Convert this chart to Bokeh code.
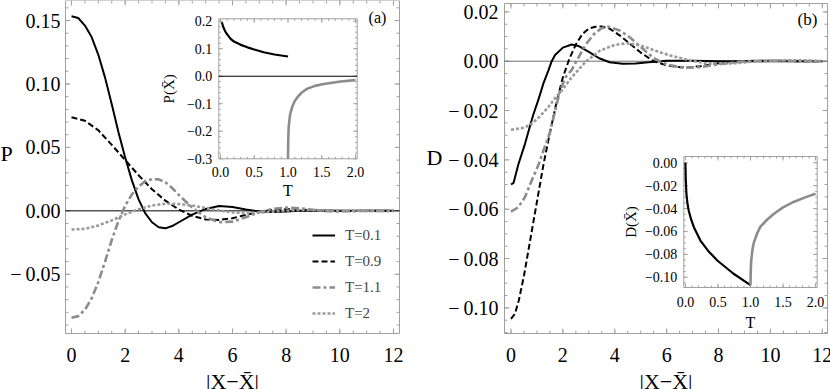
import numpy as np
from bokeh.plotting import figure
from bokeh.models import Range1d, Legend, LegendItem
from bokeh.layouts import row
from bokeh.embed import file_html
from bokeh.resources import INLINE
from bokeh.core.properties import value

# ---------------- data: panel (a)  P versus |X - Xbar| ----------------
p_t01_x = [0, 0.25, 0.5, 0.75, 1.0, 1.25, 1.5, 1.75, 2.0, 2.25, 2.5, 2.75, 3.0, 3.25, 3.5, 3.75, 4.0, 4.5, 5.0, 5.5, 6.0, 6.5, 7.0, 7.5, 8.0, 8.5, 9.0, 10.0, 11.0, 12.0]
p_t01_y = [0.1534, 0.152, 0.146, 0.137, 0.123, 0.105, 0.084, 0.062, 0.042, 0.024, 0.009, -0.002, -0.009, -0.013, -0.0138, -0.012, -0.009, -0.003, 0.0015, 0.0038, 0.003, 0.001, -0.0006, -0.001, -0.0006, 0.0, 0.0003, 0.0001, 0.0, 0.0]

p_t09_x = [0, 0.5, 1.0, 1.5, 2.0, 2.5, 3.0, 3.5, 4.0, 4.5, 5.0, 5.5, 6.0, 6.5, 7.0, 7.5, 8.0, 8.5, 9.0, 10.0, 11.0, 12.0]
p_t09_y = [0.0738, 0.071, 0.0635, 0.052, 0.040, 0.028, 0.017, 0.008, 0.001, -0.004, -0.0068, -0.0072, -0.0058, -0.0032, -0.0008, 0.0008, 0.0013, 0.001, 0.0004, -0.0001, 0.0, 0.0]

p_t11_x = [0, 0.25, 0.5, 0.75, 1.0, 1.25, 1.5, 1.75, 2.0, 2.25, 2.5, 2.75, 3.0, 3.25, 3.5, 3.75, 4.0, 4.5, 5.0, 5.5, 6.0, 6.5, 7.0, 7.5, 8.0, 8.5, 9.0, 9.5, 10.0, 11.0, 12.0]
p_t11_y = [-0.0843, -0.083, -0.078, -0.069, -0.056, -0.040, -0.023, -0.008, 0.004, 0.013, 0.019, 0.0235, 0.025, 0.0248, 0.0225, 0.018, 0.0125, 0.0025, -0.005, -0.009, -0.0085, -0.005, -0.001, 0.0015, 0.0025, 0.002, 0.0008, -0.0002, -0.0005, 0.0, 0.0]

p_t2_x = [0, 0.5, 1.0, 1.5, 2.0, 2.5, 3.0, 3.5, 4.0, 4.5, 5.0, 5.5, 6.0, 6.5, 7.0, 7.5, 8.0, 8.5, 9.0, 10.0, 11.0, 12.0]
p_t2_y = [-0.0147, -0.0142, -0.0115, -0.0075, -0.0028, 0.0012, 0.0042, 0.0056, 0.0054, 0.0042, 0.0022, 0.0002, -0.0012, -0.0018, -0.0014, -0.0006, 0.0002, 0.0006, 0.0006, 0.0002, 0.0, 0.0]

# inset (a): P(Xbar) versus T
pin_low_T = [0.02, 0.04, 0.07, 0.1, 0.15, 0.2, 0.3, 0.4, 0.5, 0.64, 0.8, 1.0]
pin_low_P = [0.196, 0.18, 0.163, 0.152, 0.136, 0.126, 0.114, 0.105, 0.097, 0.087, 0.079, 0.0716]
pin_high_T = [1.0, 1.003, 1.01, 1.03, 1.06, 1.1, 1.14, 1.2, 1.28, 1.4, 1.53, 1.78, 2.0]
pin_high_P = [-0.30, -0.24, -0.185, -0.14, -0.113, -0.09, -0.076, -0.06, -0.046, -0.035, -0.028, -0.019, -0.014]

# ---------------- data: panel (b)  D versus |X - Xbar| ----------------
d_t01_x = [0, 0.1, 0.28, 0.54, 0.7, 0.85, 1.06, 1.25, 1.44, 1.57, 1.7, 2.0, 2.34, 2.6, 3.0, 3.4, 3.8, 4.3, 4.8, 5.3, 6.0, 7.0, 8.0, 9.0, 10.0, 12.0]
d_t01_y = [-0.050, -0.0493, -0.042, -0.0335, -0.0275, -0.022, -0.0155, -0.009, -0.0038, 0.0, 0.0025, 0.0055, 0.0068, 0.0062, 0.0038, 0.0012, -0.0004, -0.001, -0.0009, -0.0004, 0.0002, 0.0002, 0.0, 0.0, 0.0, 0.0]

d_t09_x = [0, 0.15, 0.3, 0.5, 0.75, 1.0, 1.25, 1.5, 1.75, 2.0, 2.25, 2.5, 2.75, 3.0, 3.25, 3.5, 3.8, 4.2, 4.6, 5.0, 5.5, 6.0, 6.5, 6.8, 7.3, 8.0, 9.0, 10.0, 11.0, 12.0]
d_t09_y = [-0.1045, -0.1025, -0.097, -0.087, -0.072, -0.057, -0.042, -0.029, -0.017, -0.0065, 0.001, 0.0068, 0.011, 0.0132, 0.014, 0.0141, 0.0132, 0.0104, 0.007, 0.0035, 0.0, -0.0017, -0.0024, -0.0025, -0.002, -0.0008, 0.0001, 0.0002, 0.0, 0.0]

d_t11_x = [0, 0.28, 0.54, 0.8, 1.06, 1.25, 1.5, 1.75, 1.89, 2.1, 2.34, 2.6, 2.86, 3.2, 3.5, 3.75, 4.2, 4.6, 5.0, 5.5, 6.0, 6.5, 6.8, 7.3, 8.0, 9.0, 10.0, 11.0, 12.0]
d_t11_y = [-0.0610, -0.0592, -0.0551, -0.0484, -0.042, -0.0362, -0.029, -0.018, -0.012, -0.0065, -0.0035, 0.0015, 0.0065, 0.011, 0.0135, 0.014, 0.0124, 0.0095, 0.0058, 0.0012, -0.0013, -0.0024, -0.0026, -0.0024, -0.0012, 0.0, 0.0002, 0.0001, 0.0]

d_t2_x = [0, 0.4, 0.73, 1.1, 1.44, 1.7, 1.96, 2.34, 2.6, 2.9, 3.43, 4.0, 4.46, 5.0, 5.5, 6.14, 6.9, 7.5, 8.1, 8.8, 9.5, 10.5, 11.5, 12.0]
d_t2_y = [-0.0278, -0.0272, -0.026, -0.0225, -0.0186, -0.015, -0.0119, -0.0065, -0.0035, 0.0, 0.0043, 0.0066, 0.0073, 0.0064, 0.0045, 0.0023, 0.0003, -0.0008, -0.0011, -0.0007, 0.0, 0.0004, 0.0003, 0.0]

# inset (b): D(Xbar) versus T
din_low_T = [0.0, 0.005, 0.015, 0.03, 0.05, 0.09, 0.13, 0.23, 0.35, 0.49, 0.74, 1.0]
din_low_D = [0.0, -0.014, -0.027, -0.035, -0.0417, -0.050, -0.0563, -0.068, -0.077, -0.0854, -0.097, -0.107]
din_high_T = [1.0, 1.003, 1.01, 1.03, 1.05, 1.1, 1.15, 1.25, 1.36, 1.5, 1.67, 1.85, 2.0]
din_high_D = [-0.107, -0.096, -0.086, -0.076, -0.070, -0.062, -0.056, -0.050, -0.0445, -0.039, -0.034, -0.030, -0.027]

# ---------------- ticks / labels ----------------
x_main_ticks = [0, 2, 4, 6, 8, 10, 12]
x_main_labels = ["0", "2", "4", "6", "8", "10", "12"]
p_ticks = [-0.05, 0.0, 0.05, 0.10, 0.15]
p_labels = ["\u2212\u20090.05", "0.00", "0.05", "0.10", "0.15"]
d_ticks = [-0.10, -0.08, -0.06, -0.04, -0.02, 0.0, 0.02]
d_labels = ["\u2212\u20090.10", "\u2212\u20090.08", "\u2212\u20090.06", "\u2212\u20090.04", "\u2212\u20090.02", "0.00", "0.02"]
t_ticks = [0.0, 0.5, 1.0, 1.5, 2.0]
t_labels = ["0.0", "0.5", "1.0", "1.5", "2.0"]
pin_ticks = [-0.3, -0.2, -0.1, 0.0, 0.1, 0.2]
pin_labels = ["\u22120.3", "\u22120.2", "\u22120.1", "0.0", "0.1", "0.2"]
din_ticks = [-0.10, -0.08, -0.06, -0.04, -0.02, 0.0]
din_labels = ["\u22120.10", "\u22120.08", "\u22120.06", "\u22120.04", "\u22120.02", "0.00"]
legend_labels = ["T=0.1", "T=0.9", "T=1.1", "T=2"]
x_title = "|X\u2212X\u0304|"

FONT = "Liberation Serif"
FRAME = "#a0a0a0"
GRAY1 = "#8c8c8c"
GRAY2 = "#9a9a9a"
H = 389

styles = [
    dict(line_color="black", line_width=2.0),
    dict(line_color="black", line_width=2.0, line_dash="6 3"),
    dict(line_color=GRAY1, line_width=2.6, line_dash="8 3 3 3"),
    dict(line_color=GRAY2, line_width=2.6, line_dash="3 2"),
]


def box_ranges(xlim, ylim, W, box_x, box_y):
    """Ranges that put data box xlim x ylim at pixel box box_x x box_y (top-down) of a W x H canvas."""
    kx = (xlim[1] - xlim[0]) / (box_x[1] - box_x[0])
    xr = Range1d(xlim[0] - box_x[0] * kx, xlim[1] + (W - box_x[1]) * kx)
    ky = (ylim[1] - ylim[0]) / (box_y[1] - box_y[0])
    yr = Range1d(ylim[0] - (H - box_y[1]) * ky, ylim[1] + box_y[0] * ky)
    return xr, yr


def txt(p, x, y, text, size, kw, **extra):
    p.text(x=x, y=y, text=text, text_font=value(FONT), text_font_size=value(size),
           text_color="black", **kw, **extra)


def box_axes(p, kw, xlim, ylim, xt, xl, xminor, yt, yl, yminor, fill, major, minor,
             font, xl_off, yl_off):
    p.quad(left=[xlim[0]], right=[xlim[1]], bottom=[ylim[0]], top=[ylim[1]],
           fill_color=fill, line_color=FRAME, line_width=1, **kw)
    for ticks, ln in ((xt, major), (xminor, minor)):
        n = len(ticks)
        p.ray(x=ticks, y=[ylim[0]] * n, length=ln, length_units="screen", angle=np.pi / 2, line_color=FRAME, **kw)
        p.ray(x=ticks, y=[ylim[1]] * n, length=ln, length_units="screen", angle=-np.pi / 2, line_color=FRAME, **kw)
    for ticks, ln in ((yt, major), (yminor, minor)):
        n = len(ticks)
        p.ray(x=[xlim[0]] * n, y=ticks, length=ln, length_units="screen", angle=0, line_color=FRAME, **kw)
        p.ray(x=[xlim[1]] * n, y=ticks, length=ln, length_units="screen", angle=np.pi, line_color=FRAME, **kw)
    txt(p, xt, [ylim[0]] * len(xt), xl, font, kw, text_align="center", text_baseline="middle", y_offset=xl_off)
    txt(p, [xlim[0]] * len(yt), yt, yl, font, kw, text_align="right", text_baseline="middle", x_offset=yl_off)


def new_fig(W, xr, yr):
    p = figure(width=W, height=H, output_backend="svg", toolbar_location=None,
               x_range=xr, y_range=yr, min_border=0,
               x_axis_location=None, y_axis_location=None)
    p.outline_line_color = None
    p.grid.grid_line_color = None
    p.background_fill_color = "white"
    p.border_fill_color = "white"
    return p


def add_inset(p, name, xlim, ylim, W, box_x, box_y):
    xr, yr = box_ranges(xlim, ylim, W, box_x, box_y)
    p.extra_x_ranges[name] = xr
    p.extra_y_ranges[name] = yr
    return dict(x_range_name=name, y_range_name=name)


def inset(p, kw, xlim, ylim, yt, yl, yminor, ytitle, ytitle_off, xl_off, tl_off):
    box_axes(p, kw, xlim, ylim, t_ticks, t_labels, list(np.arange(0.1, 2.0, 0.1)), yt, yl, yminor,
             "white", 4, 2, "14px", xl_off, -6.5)
    txt(p, [(xlim[0] + xlim[1]) / 2], [ylim[0]], ["T"], "16px", kw,
        text_align="center", text_baseline="middle", y_offset=tl_off)
    txt(p, [xlim[0]], [(ylim[0] + ylim[1]) / 2], [ytitle], "15px", kw,
        text_align="center", text_baseline="middle", angle=np.pi / 2, x_offset=ytitle_off)


XMINOR = list(np.arange(0, 12.01, 0.5))
NOKW = {}

# ---------------- panel (a) ----------------
WA = 410
PX = (-0.224, 12.224)
PY = (-0.0967, 0.1658)
xr, yr = box_ranges(PX, PY, WA, (65, 399), (0, 333))
pa = new_fig(WA, xr, yr)
box_axes(pa, NOKW, PX, PY, x_main_ticks, x_main_labels, XMINOR, p_ticks, p_labels,
         list(np.arange(-0.09, 0.161, 0.01)), None, 5, 3, "20px", 21, -5)
pa.segment(x0=[PX[0]], x1=[PX[1]], y0=[0], y1=[0], line_color="black", line_width=1)
series_a = [(p_t01_x, p_t01_y), (p_t09_x, p_t09_y), (p_t11_x, p_t11_y), (p_t2_x, p_t2_y)]
rend_a = [pa.line(x, y, **s) for (x, y), s in zip(series_a, styles)]
txt(pa, [(PX[0] + PX[1]) / 2], [PY[0]], [x_title], "22px", NOKW,
    text_align="center", text_baseline="middle", y_offset=48)
txt(pa, [PX[0]], [PY[1]], ["P"], "22px", NOKW,
    text_align="center", text_baseline="middle", x_offset=-59, y_offset=153)
txt(pa, [PX[1]], [PY[1]], ["(a)"], "16px", NOKW,
    text_align="center", text_baseline="middle", x_offset=-22, y_offset=17)
legend = Legend(items=[LegendItem(label=l, renderers=[r]) for l, r in zip(legend_labels, rend_a)],
                location=(312, 67), border_line_color=None, background_fill_alpha=0,
                padding=0, margin=0, spacing=8, glyph_width=23, glyph_height=18,
                label_height=18, label_standoff=10, label_text_font=FONT,
                label_text_font_size="15px")
pa.add_layout(legend)

IXA = (-0.025, 2.025)
IYA = (-0.3, 0.2087)
kwa = add_inset(pa, "ia", IXA, IYA, WA, (218.3, 356.7), (18.3, 158.3))
inset(pa, kwa, IXA, IYA, pin_ticks, pin_labels, list(np.arange(-0.28, 0.2, 0.02)),
      "P(X\u0304)", -50, 13.4, 31.7)
pa.segment(x0=[IXA[0]], x1=[IXA[1]], y0=[0], y1=[0], line_color="black", line_width=1, **kwa)
pa.line(pin_low_T, pin_low_P, line_color="black", line_width=2.2, **kwa)
pa.line(pin_high_T, pin_high_P, line_color=GRAY1, line_width=2.6, **kwa)

# ---------------- panel (b) ----------------
WB = 420
DX = (-0.25, 12.2)
DY = (-0.1104, 0.0234)
xr, yr = box_ranges(DX, DY, WB, (94, 417), (3, 333))
pb = new_fig(WB, xr, yr)
box_axes(pb, NOKW, DX, DY, x_main_ticks, x_main_labels, XMINOR, d_ticks, d_labels,
         list(np.arange(-0.11, 0.021, 0.005)), None, 5, 3, "20px", 21, -6)
pb.segment(x0=[DX[0]], x1=[DX[1]], y0=[0], y1=[0], line_color="#707070", line_width=1)
series_b = [(d_t01_x, d_t01_y), (d_t09_x, d_t09_y), (d_t11_x, d_t11_y), (d_t2_x, d_t2_y)]
for (x, y), s in zip(series_b, styles):
    pb.line(x, y, **s)
txt(pb, [(DX[0] + DX[1]) / 2], [DY[0]], [x_title], "22px", NOKW,
    text_align="center", text_baseline="middle", y_offset=48)
txt(pb, [DX[0]], [DY[1]], ["D"], "22px", NOKW,
    text_align="center", text_baseline="middle", x_offset=-70, y_offset=154)
txt(pb, [DX[1]], [DY[1]], ["(b)"], "17px", NOKW,
    text_align="center", text_baseline="middle", x_offset=-20, y_offset=15.5)

IXB = (-0.025, 2.025)
IYB = (-0.109, 0.0055)
kwb = add_inset(pb, "ib", IXB, IYB, WB, (273.3, 406.7), (156, 287))
inset(pb, kwb, IXB, IYB, din_ticks, din_labels, list(np.arange(-0.105, 0.001, 0.005)),
      "D(X\u0304)", -53, 14, 34.7)
pb.line(din_low_T, din_low_D, line_color="black", line_width=2.2, **kwb)
pb.line(din_high_T, din_high_D, line_color=GRAY1, line_width=2.6, **kwb)

lay = row(pa, pb)

open("out.html", "w").write(file_html(lay, INLINE))
